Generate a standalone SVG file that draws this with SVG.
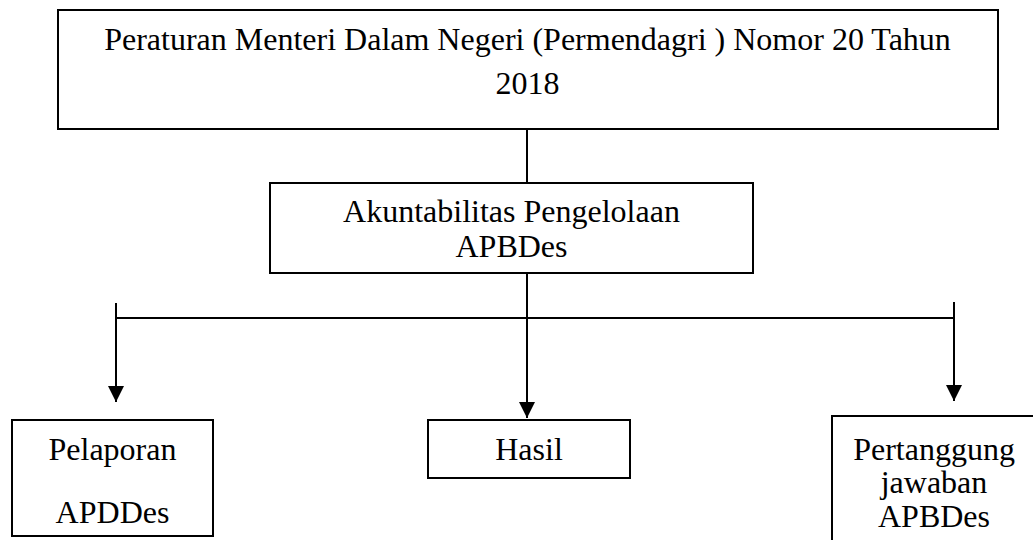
<svg xmlns="http://www.w3.org/2000/svg" width="1033" height="540" viewBox="0 0 1033 540">
<style>
.box{fill:#fff;stroke:#000;stroke-width:2}
.t{font-family:"Liberation Serif","Times New Roman",serif;font-size:32px;fill:#000;text-anchor:middle}
.c{stroke:#000;stroke-width:2;fill:none}
</style>
<defs>
<marker id="ah" markerUnits="userSpaceOnUse" markerWidth="16" markerHeight="16" refX="16" refY="8" orient="auto" viewBox="0 0 16 16">
<path d="M0,0 L16,8 L0,16 z" fill="#000"/>
</marker>
</defs>
<rect width="1033" height="540" fill="#fff"/>
<g id="connectors">
<line class="c" x1="527" y1="129" x2="527" y2="183"/>
<line class="c" x1="527" y1="273" x2="527" y2="418" marker-end="url(#ah)"/>
<line class="c" x1="116" y1="318" x2="954" y2="318"/>
<line class="c" x1="116" y1="303" x2="116" y2="402" marker-end="url(#ah)"/>
<line class="c" x1="954" y1="302" x2="954" y2="401" marker-end="url(#ah)"/>
</g>
<g id="node-permendagri">
<rect class="box" x="58" y="10" width="940" height="119"/>
<text class="t" x="527.5" y="50">Peraturan Menteri Dalam Negeri (Permendagri ) Nomor 20 Tahun</text>
<text class="t" x="527.5" y="94">2018</text>
</g>
<g id="node-akuntabilitas">
<rect class="box" x="270" y="183" width="483" height="90"/>
<text class="t" x="511.5" y="222">Akuntabilitas Pengelolaan</text>
<text class="t" x="511.5" y="257">APBDes</text>
</g>
<g id="node-pelaporan">
<rect class="box" x="12" y="420" width="201" height="116"/>
<text class="t" x="112.5" y="460">Pelaporan</text>
<text class="t" x="112.5" y="523">APDDes</text>
</g>
<g id="node-hasil">
<rect class="box" x="428" y="420" width="202" height="58"/>
<text class="t" x="529" y="460">Hasil</text>
</g>
<g id="node-pertanggungjawaban">
<rect class="box" x="832" y="416" width="210" height="140"/>
<text class="t" x="934" y="460">Pertanggung</text>
<text class="t" x="934" y="493">jawaban</text>
<text class="t" x="934" y="527">APBDes</text>
</g>
</svg>
